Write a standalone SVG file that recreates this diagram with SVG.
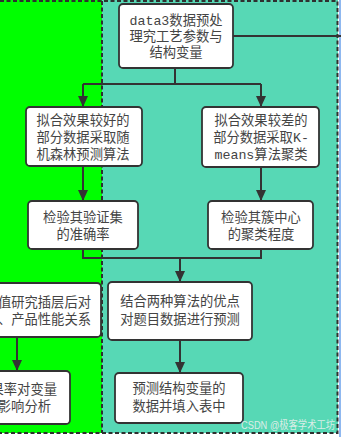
<svg xmlns="http://www.w3.org/2000/svg" width="341" height="437" viewBox="0 0 341 437">
<style>
.bg-border{fill:none;stroke:#2f2f2f;stroke-width:2;stroke-dasharray:4 2.5}
.box{fill:#ffffff;stroke:#333333;stroke-width:1.8}
.t{font-family:"Liberation Mono","Noto Sans CJK SC",monospace;font-size:13.3px;fill:#444444;text-anchor:middle;dominant-baseline:central}
.te{text-anchor:end}
.conn path{fill:none;stroke:#333333;stroke-width:2}
.wm{font-family:"Liberation Sans","Noto Sans CJK SC",sans-serif;font-size:11px;fill:#f2f2f2;fill-opacity:0.85}
</style>
<defs>
<marker id="arr" markerUnits="userSpaceOnUse" markerWidth="11" markerHeight="10" refX="11" refY="5" orient="auto">
<path d="M0,0 L11,5 L0,10 z" fill="#333333"/>
</marker>
</defs>
<rect x="0" y="0" width="341" height="437" fill="#ffffff"/>
<rect x="0" y="0" width="102" height="433" fill="#00ff00"/>
<rect x="102" y="0" width="236" height="433" fill="#57d8b5"/>
<line x1="340" y1="0" x2="340" y2="437" stroke="#8fb8f0" stroke-width="2"/>
<path class="bg-border" d="M0,1 H337.5 V433 H0"/>
<line class="bg-border" x1="102" y1="1" x2="102" y2="433"/>

<g class="conn">
<path d="M175,68 V84"/>
<path d="M83,84 H261"/>
<path d="M83,84 V107" marker-end="url(#arr)"/>
<path d="M261,84 V107" marker-end="url(#arr)"/>
<path d="M233,36 H341"/>
<path d="M83,166 V201" marker-end="url(#arr)"/>
<path d="M261,167 V201" marker-end="url(#arr)"/>
<path d="M83,249 V258 H261 V249"/>
<path d="M180,258 V282" marker-end="url(#arr)"/>
<path d="M17,337 V371" marker-end="url(#arr)"/>
<path d="M180,340 V373" marker-end="url(#arr)"/>
</g>

<g id="n1">
<rect class="box" x="119" y="4" width="114" height="64" rx="4"/>
<text class="t" x="176" y="21">data3数据预处</text>
<text class="t" x="176" y="37">理究工艺参数与</text>
<text class="t" x="176" y="53">结构变量</text>
</g>
<g id="n2">
<rect class="box" x="26" y="107" width="116" height="59" rx="4"/>
<text class="t" x="83" y="121">拟合效果较好的</text>
<text class="t" x="83" y="138">部分数据采取随</text>
<text class="t" x="83" y="155">机森林预测算法</text>
</g>
<g id="n3">
<rect class="box" x="202" y="107" width="117" height="60" rx="4"/>
<text class="t" x="261" y="121">拟合效果较差的</text>
<text class="t" x="261" y="138">部分数据采取K-</text>
<text class="t" x="261" y="155">means算法聚类</text>
</g>
<g id="n4">
<rect class="box" x="28" y="201" width="110" height="48" rx="4"/>
<text class="t" x="83" y="218">检验其验证集</text>
<text class="t" x="83" y="235">的准确率</text>
</g>
<g id="n5">
<rect class="box" x="208" y="201" width="105" height="48" rx="4"/>
<text class="t" x="261" y="218">检验其簇中心</text>
<text class="t" x="261" y="235">的聚类程度</text>
</g>
<g id="n6">
<rect class="box" x="-12" y="283" width="113" height="54" rx="4"/>
<text class="t te" x="91" y="303">值研究插层后对</text>
<text class="t te" x="91" y="320">、产品性能关系</text>
</g>
<g id="n7">
<rect class="box" x="108" y="282" width="144" height="58" rx="4"/>
<text class="t" x="180" y="302">结合两种算法的优点</text>
<text class="t" x="180" y="320">对题目数据进行预测</text>
</g>
<g id="n8">
<rect class="box" x="-12" y="371" width="82" height="53" rx="4"/>
<text class="t te" x="57" y="390">果率对变量</text>
<text class="t te" x="51" y="407">影响分析</text>
</g>
<g id="n9">
<rect class="box" x="115" y="373" width="128" height="50" rx="4"/>
<text class="t" x="179" y="389">预测结构变量的</text>
<text class="t" x="179" y="407">数据并填入表中</text>
</g>
<text class="wm" x="241" y="429" textLength="94" lengthAdjust="spacingAndGlyphs">CSDN @极客学术工坊</text>
</svg>
